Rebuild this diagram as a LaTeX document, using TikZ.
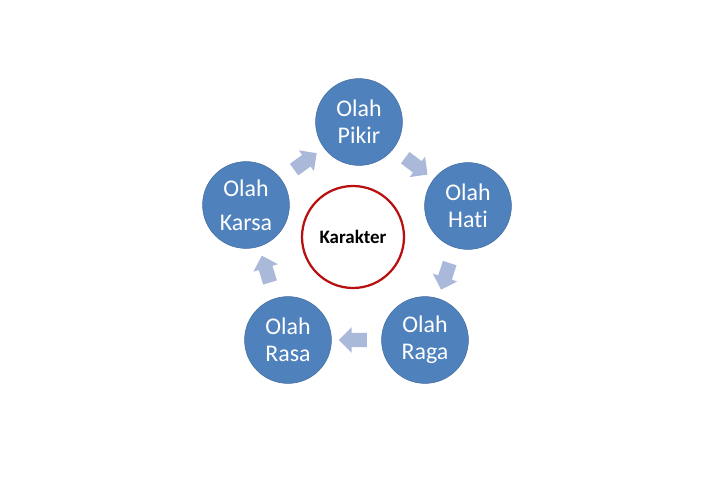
\documentclass[tikz,border=0pt]{standalone}
\usepackage{fontspec}
\setmainfont[Ligatures=NoCommon]{Carlito}
\usepackage{xcolor}
\definecolor{OlahBlue}{HTML}{4F81BD}
\definecolor{ArrowLilac}{HTML}{AAB8DA}
\definecolor{RingRed}{HTML}{B80F0F}
\usepackage{tikz}
\usetikzlibrary{shapes.arrows,calc}

\begin{document}
\begin{tikzpicture}[olah/.style={circle,fill=OlahBlue,draw=OlahBlue!85!black,line width=0.4pt,minimum size=2.17cm,inner sep=0pt,align=center,text=white,font=\fontsize{17}{19}\selectfont},core/.style={circle,draw=RingRed,line width=1.6pt,fill=white,minimum size=2.55cm,font=\bfseries\fontsize{13.5}{15}\selectfont},blk/.style={single arrow,fill=ArrowLilac,draw=none,minimum height=0.7cm,minimum width=0.64cm,inner sep=0.17cm,single arrow head extend=0.14cm}]
\useasboundingbox (0,0) rectangle (18,12);
\node[olah] (pikir) at (8.975,8.95) {Olah\\Pikir};
\node[olah] (hati) at (11.7,6.85) {Olah\\Hati};
\node[olah] (raga) at (10.625,3.5) {Olah\\Raga};
\node[olah] (rasa) at (7.2,3.5) {Olah\\Rasa};
\node[olah] (karsa) at (6.15,6.875) {Olah\\[5pt]Karsa};
\node[core] (karakter) at (8.825,6.075) {Karakter};
\node[blk,rotate=36] (kp) at ($(karsa)!0.5!(pikir)$) {};
\node[blk,rotate=-37] (ph) at ($(pikir)!0.5!(hati)$) {};
\node[blk,rotate=-108] (hr) at ($(hati)!0.5!(raga)$) {};
\node[blk,rotate=180] (rr) at ($(raga)!0.5!(rasa)$) {};
\node[blk,rotate=107] (rk) at ($(rasa)!0.5!(karsa)$) {};
\end{tikzpicture}
\end{document}
